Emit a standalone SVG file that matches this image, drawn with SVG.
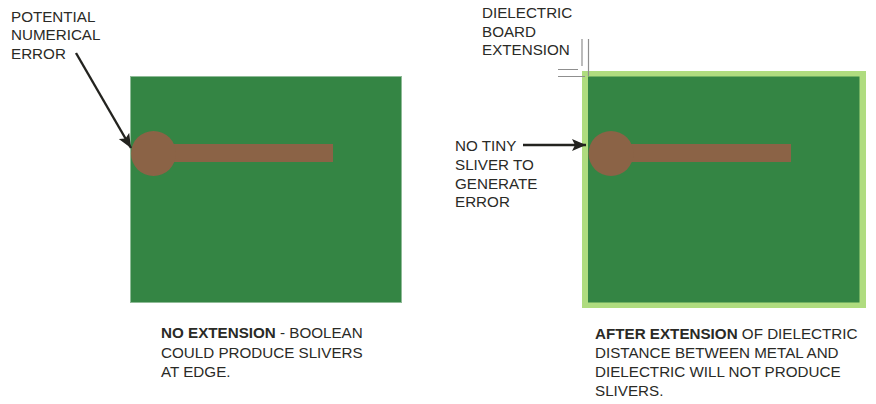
<svg xmlns="http://www.w3.org/2000/svg" width="876" height="404" viewBox="0 0 876 404">
<style>
text{font-family:"Liberation Sans",Arial,sans-serif;font-size:15.2px;fill:#2a2a26}
.b{font-weight:bold}
.board{fill:#348544}
.metal{fill:#8b6346}
.dim{stroke:#8f8f8f;stroke-width:1.2;fill:none}
.lead{stroke:#23231f;stroke-width:2.4;fill:none}
</style>
<defs>
<marker id="ah" markerUnits="userSpaceOnUse" markerWidth="16" markerHeight="14" refX="14" refY="6" orient="auto"><path d="M0 0L14 6L0 12L3 6Z" fill="#23231f"/></marker>
</defs>
<rect width="876" height="404" fill="#fff"/>
<g id="board-no-extension">
<rect class="board" x="130.500" y="76.500" width="271" height="226" stroke="#8fbb97" stroke-width="1"/>
<rect class="metal" x="165" y="144" width="168" height="18"/>
<circle class="metal" cx="153.500" cy="153.500" r="22.500"/>
</g>
<g id="board-after-extension">
<rect x="582" y="71" width="284" height="237" fill="#afdc7f"/>
<rect class="board" x="588" y="76.500" width="271.500" height="226"/>
<rect class="metal" x="622" y="144" width="169" height="18"/>
<circle class="metal" cx="611" cy="153.500" r="22.500"/>
</g>
<g id="label-potential-error">
<text x="11" y="22">POTENTIAL</text>
<text x="11" y="40">NUMERICAL</text>
<text x="11" y="59">ERROR</text>
</g>
<g id="label-dielectric-extension">
<text x="482" y="18">DIELECTRIC</text>
<text x="482" y="37">BOARD</text>
<text x="482" y="55">EXTENSION</text>
</g>
<g id="label-no-sliver">
<text x="455" y="151">NO TINY</text>
<text x="455" y="170">SLIVER TO</text>
<text x="455" y="189">GENERATE</text>
<text x="455" y="207">ERROR</text>
</g>
<g id="caption-no-extension">
<text x="161" y="338"><tspan class="b">NO EXTENSION</tspan> - BOOLEAN</text>
<text x="161" y="358">COULD PRODUCE SLIVERS</text>
<text x="161" y="377">AT EDGE.</text>
</g>
<g id="caption-after-extension">
<text x="595" y="339"><tspan class="b">AFTER EXTENSION</tspan> OF DIELECTRIC</text>
<text x="595" y="358">DISTANCE BETWEEN METAL AND</text>
<text x="595" y="377">DIELECTRIC WILL NOT PRODUCE</text>
<text x="595" y="396">SLIVERS.</text>
</g>
<g id="connectors">
<path class="lead" d="M76 53L131 148" marker-end="url(#ah)"/>
<path class="lead" d="M523 145L586 145" marker-end="url(#ah)"/>
<path class="dim" d="M582 39V66M588.500 39V76M558 69.500H578M558 76.500H585"/>
</g>
</svg>
